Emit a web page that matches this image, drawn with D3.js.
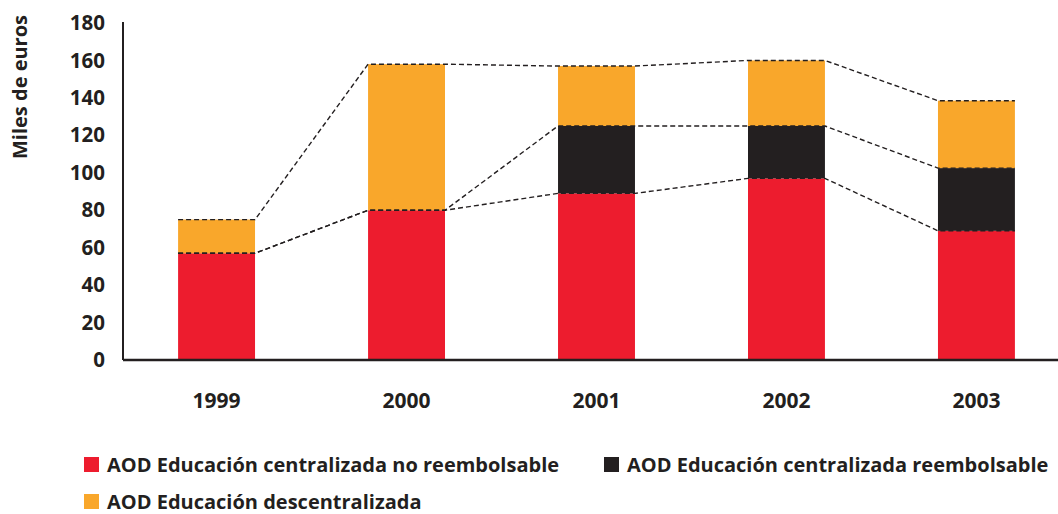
<!DOCTYPE html>
<html>
<head>
<meta charset="utf-8">
<script src="https://cdn.jsdelivr.net/npm/d3@7"></script>
<style>
	body { margin: 0; background: #fff; }
	svg { display: block; font-family: 'Open Sans', sans-serif; font-weight: bold; }
</style>
</head>
<body>
<div id="chart"></div>
<script>
var years = ['1999', '2000', '2001', '2002', '2003'];
var noReembolsable = [57, 80, 89, 97, 69];
var reembolsable = [0, 0, 36, 28, 33.5];
var descentralizada = [18, 78, 32, 35, 36];
var seriesNames = [
	'AOD Educación centralizada no reembolsable',
	'AOD Educación centralizada reembolsable',
	'AOD Educación descentralizada'
];
var yTicks = [0, 20, 40, 60, 80, 100, 120, 140, 160, 180];
var colors = ['#ed1c2e', '#231f20', '#f9a72b'];

var width = 1058, height = 514;
var margin = {top: 23, left: 123, bottom: 154};

var svg = d3.select('#chart')
	.append('svg')
	.attr('width', width)
	.attr('height', height);

var rows = years.map(function(y, i) {
	return {year: y, a: noReembolsable[i], b: reembolsable[i], c: descentralizada[i]};
});
var stack = d3.stack().keys(['a', 'b', 'c'])(rows);

var x = d3.scaleBand()
	.domain(years)
	.range([margin.left, 1070])
	.paddingInner(0.595)
	.paddingOuter(0.29);

var y = d3.scaleLinear()
	.domain([0, 180])
	.range([height - margin.bottom, margin.top]);

// bars
stack.forEach(function(layer, i) {
	svg.append('g')
		.selectAll('rect')
		.data(layer)
		.enter()
		.append('rect')
		.attr('x', function(d) { return x(d.data.year); })
		.attr('width', x.bandwidth())
		.attr('y', function(d) { return y(d[1]); })
		.attr('height', function(d) { return y(d[0]) - y(d[1]); })
		.style('fill', colors[i]);
});

// dashed connectors along the top of each layer
stack.forEach(function(layer) {
	var pts = [];
	layer.forEach(function(d) {
		pts.push([x(d.data.year), y(d[1])]);
		pts.push([x(d.data.year) + x.bandwidth(), y(d[1])]);
	});
	svg.append('path')
		.datum(pts)
		.attr('d', d3.line())
		.style('fill', 'none')
		.style('stroke', '#231f20')
		.style('stroke-width', 1.4)
		.style('stroke-dasharray', '5,3');
});

// y axis
var yAxis = svg.append('g')
	.attr('transform', 'translate(' + margin.left + ',0)')
	.call(d3.axisLeft(y).tickValues(yTicks).tickSize(0).tickPadding(18));
yAxis.select('.domain')
	.attr('d', 'M0,' + (margin.top - 1) + 'V' + y(0))
	.style('stroke', '#231f20')
	.style('stroke-width', 2);
yAxis.selectAll('text')
	.style('font-family', 'Open Sans')
	.style('font-weight', 'bold')
	.style('font-size', '20.5px')
	.style('fill', '#231f20');

// x axis
var xAxis = svg.append('g')
	.attr('transform', 'translate(0,' + y(0) + ')')
	.call(d3.axisBottom(x).tickSize(0).tickPadding(33));
xAxis.select('.domain')
	.attr('d', 'M' + margin.left + ',0H' + width)
	.style('stroke', '#231f20')
	.style('stroke-width', 2.5);
xAxis.selectAll('text')
	.style('font-family', 'Open Sans')
	.style('font-weight', 'bold')
	.style('font-size', '21px')
	.style('fill', '#231f20');

// y axis title
svg.append('text')
	.attr('transform', 'rotate(-90)')
	.attr('x', -87)
	.attr('y', 27)
	.style('text-anchor', 'middle')
	.style('font-size', '20px')
	.style('fill', '#231f20')
	.text('Miles de euros');

// legend
var legendPos = [[84, 465], [604, 465], [84, 502]];
seriesNames.forEach(function(name, i) {
	var g = svg.append('g')
		.attr('transform', 'translate(' + legendPos[i][0] + ',' + legendPos[i][1] + ')');
	g.append('rect')
		.attr('x', 0)
		.attr('y', -8)
		.attr('width', 15)
		.attr('height', 15)
		.style('fill', colors[i]);
	g.append('text')
		.attr('x', 23)
		.attr('dy', '0.33em')
		.style('font-size', '20px')
		.style('fill', '#231f20')
		.text(name);
});
</script>
</body>
</html>
